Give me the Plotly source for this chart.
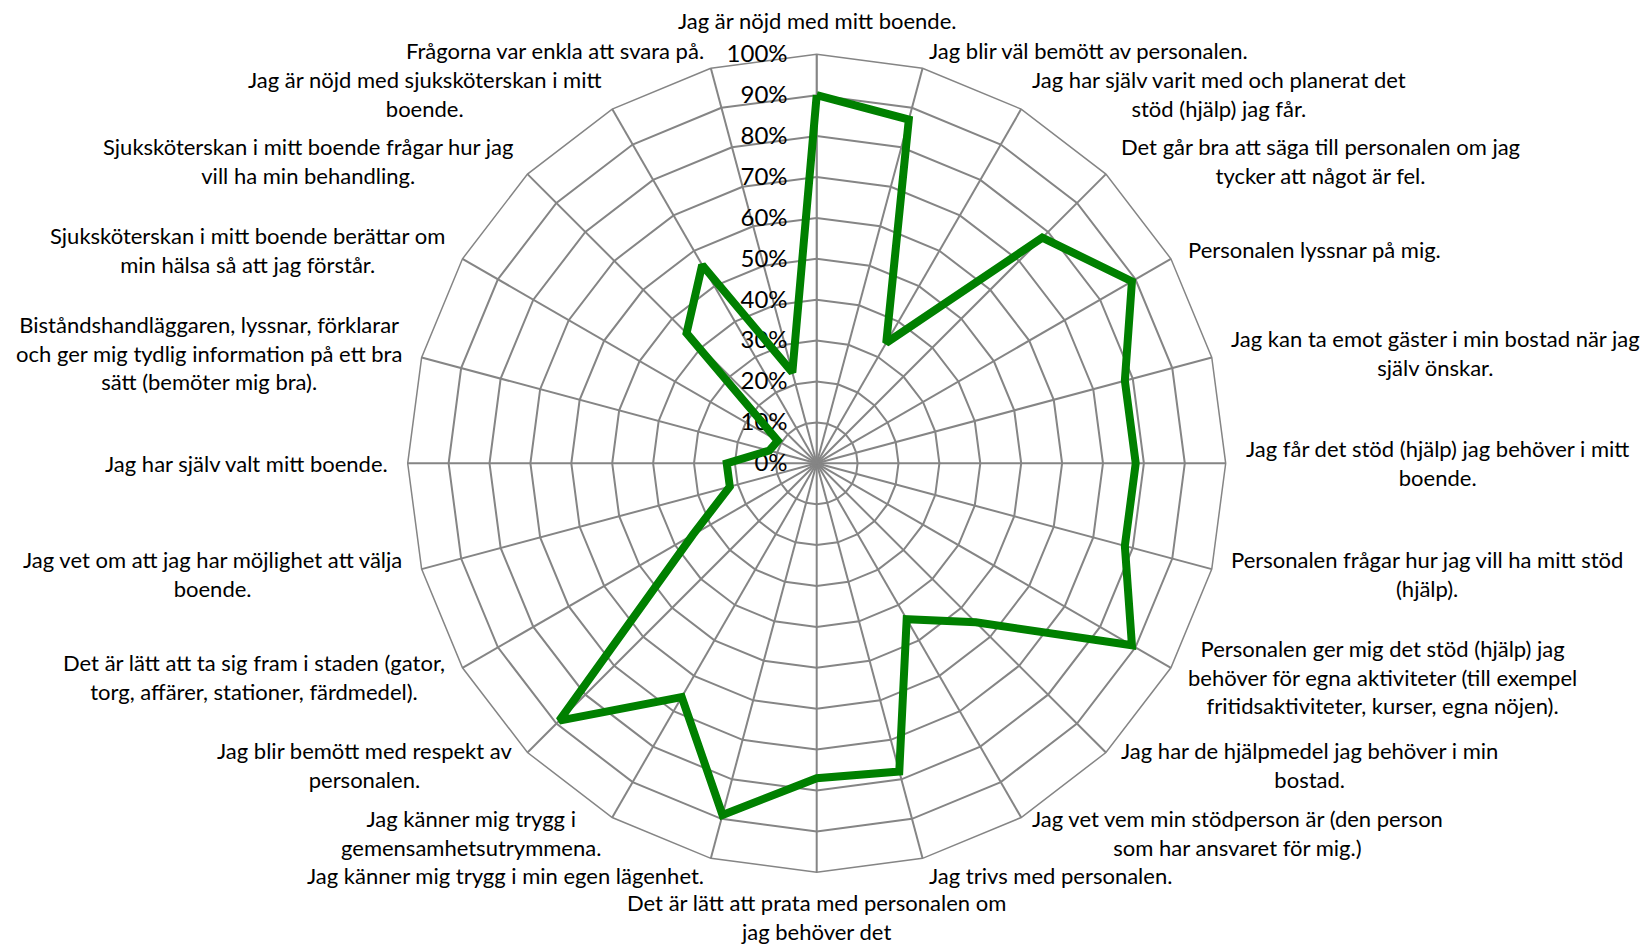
import math
import plotly.graph_objects as go

categories = [
    "Jag är nöjd med mitt boende.",
    "Jag blir väl bemött av personalen.",
    "Jag har själv varit med och planerat det<br>stöd (hjälp) jag får.",
    "Det går bra att säga till personalen om jag<br>tycker att något är fel.",
    "Personalen lyssnar på mig.",
    "Jag kan ta emot gäster i min bostad när jag<br>själv önskar.",
    "Jag får det stöd (hjälp) jag behöver i mitt<br>boende.",
    "Personalen frågar hur jag vill ha mitt stöd<br>(hjälp).",
    "Personalen ger mig det stöd (hjälp) jag<br>behöver för egna aktiviteter (till exempel<br>fritidsaktiviteter, kurser, egna nöjen).",
    "Jag har de hjälpmedel jag behöver i min<br>bostad.",
    "Jag vet vem min stödperson är (den person<br>som har ansvaret för mig.)",
    "Jag trivs med personalen.",
    "Det är lätt att prata med personalen om<br>jag behöver det",
    "Jag känner mig trygg i min egen lägenhet.",
    "Jag känner mig trygg i<br>gemensamhetsutrymmena.",
    "Jag blir bemött med respekt av<br>personalen.",
    "Det är lätt att ta sig fram i staden (gator,<br>torg, affärer, stationer, färdmedel).",
    "Jag vet om att jag har möjlighet att välja<br>boende.",
    "Jag har själv valt mitt boende.",
    "Biståndshandläggaren, lyssnar, förklarar<br>och ger mig tydlig information på ett bra<br>sätt (bemöter mig bra).",
    "Sjuksköterskan i mitt boende berättar om<br>min hälsa så att jag förstår.",
    "Sjuksköterskan i mitt boende frågar hur jag<br>vill ha min behandling.",
    "Jag är nöjd med sjuksköterskan i mitt<br>boende.",
    "Frågorna var enkla att svara på.",
]

values = [90, 87, 34, 78, 89, 78, 78, 78, 89, 55, 44, 78,
          77, 89, 66, 89, 35, 22, 22, 12, 11, 45, 56, 23]

radial_ticks = [0, 10, 20, 30, 40, 50, 60, 70, 80, 90, 100]

W, H = 1649, 945
CX, CY, R = 816.7, 463.3, 409.0
GRID = "#858585"
FONT = "Lato"
LABEL_SIZE = 22

fig = go.Figure()
fig.add_trace(go.Scatterpolar(
    r=values + values[:1],
    theta=categories + categories[:1],
    mode="lines",
    line=dict(color="#008000", width=8),
    hoverinfo="skip",
    showlegend=False,
))

fig.update_layout(
    width=W, height=H,
    margin=dict(l=0, r=0, t=0, b=0),
    paper_bgcolor="white",
    plot_bgcolor="white",
    font=dict(family=FONT, color="#000000", size=LABEL_SIZE),
    polar=dict(
        domain=dict(x=[(CX - R) / W, (CX + R) / W],
                    y=[1 - (CY + R) / H, 1 - (CY - R) / H]),
        gridshape="linear",
        bgcolor="white",
        radialaxis=dict(
            range=[0, 100],
            tickvals=radial_ticks,
            ticktext=[f"{v}%" for v in radial_ticks],
            angle=90,
            side="counterclockwise",
            tickangle=90,
            showline=True, linecolor=GRID, linewidth=1.5,
            gridcolor=GRID, gridwidth=1.5,
            ticks="outside", ticklen=20, tickcolor="rgba(0,0,0,0)",
            tickfont=dict(family=FONT, size=24, color="#000000"),
            layer="below traces",
        ),
        angularaxis=dict(
            categoryorder="array",
            categoryarray=categories,
            direction="clockwise",
            rotation=90,
            showticklabels=False,
            ticks="",
            showline=True, linecolor=GRID, linewidth=1.5,
            gridcolor=GRID, gridwidth=1.5,
            layer="below traces",
        ),
    ),
)

# Category labels placed just outside the outer polygon, Excel-style
n = len(categories)
anns = []
for i, lab in enumerate(categories):
    th = math.radians(360.0 * i / n)
    s, c = math.sin(th), math.cos(th)
    if abs(s) < 1e-6:
        xa = "center"
        if c > 0:
            ya, gap = "bottom", 18
        else:
            ya, gap = "top", 15
    else:
        xa = "left" if s > 0 else "right"
        ya, gap = "middle", 18
    px = CX + (R + gap) * s
    py = CY - (R + gap) * c
    anns.append(dict(
        x=px / W, y=1 - py / H, xref="paper", yref="paper",
        text=lab, showarrow=False, xanchor=xa, yanchor=ya, align="center",
        font=dict(family=FONT, size=LABEL_SIZE, color="#000000"),
    ))
fig.update_layout(annotations=anns)

fig.write_html(
    "out.html",
    config={"displayModeBar": False},
    post_script="document.body.style.margin='0';document.body.style.overflow='hidden';",
)
